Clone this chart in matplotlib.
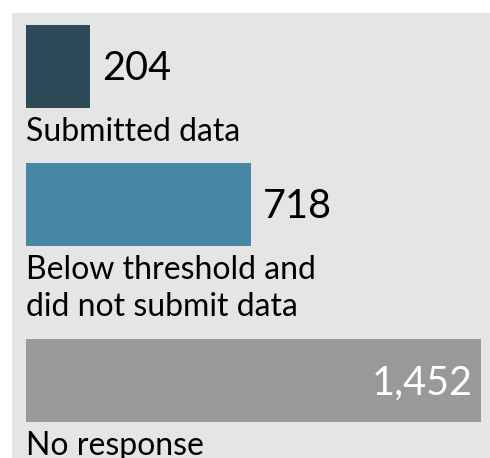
import matplotlib
matplotlib.use("Agg")
import matplotlib.pyplot as plt
from matplotlib.patches import Rectangle

categories = ["Submitted data", "Below threshold and\ndid not submit data", "No response"]
values = [204, 718, 1452]
colors = ["#2e4a58", "#4787a3", "#999999"]

W, H = 490, 458
fig = plt.figure(figsize=(W / 100, H / 100), dpi=100)
fig.patch.set_facecolor("white")
# grey panel behind the chart
fig.patches.append(Rectangle((12 / W, 0), 1, 1 - 13 / H, transform=fig.transFigure,
                             facecolor="#e5e5e5", edgecolor="none", zorder=-10))

# axes: x in data units, y in pixels from the top
ax = fig.add_axes([26 / W, 0, (481 - 26) / W, 1])
ax.set_xlim(0, max(values))
ax.set_ylim(H, 0)
ax.axis("off")

bar_h = 83
line_h = 38
top = 25
for cat, val, col in zip(categories, values, colors):
    center = top + bar_h / 2
    ax.barh(center, val, height=bar_h, color=col, left=0)
    label = f"{val:,}"
    if val == max(values):
        ax.text(val - 28, center + 2, label, ha="right", va="center",
                color="white", fontsize=28.5, family="Lato")
    else:
        ax.text(val + 38, center + 2, label, ha="left", va="center",
                color="black", fontsize=28.5, family="Lato")
    ax.text(0, top + bar_h + 9, cat, ha="left", va="top", color="black",
            fontsize=23, family="Lato", linespacing=1.3)
    lines = cat.count("\n") + 1
    top = top + bar_h + 17 + line_h * lines

fig.savefig("out.png", dpi=100)
